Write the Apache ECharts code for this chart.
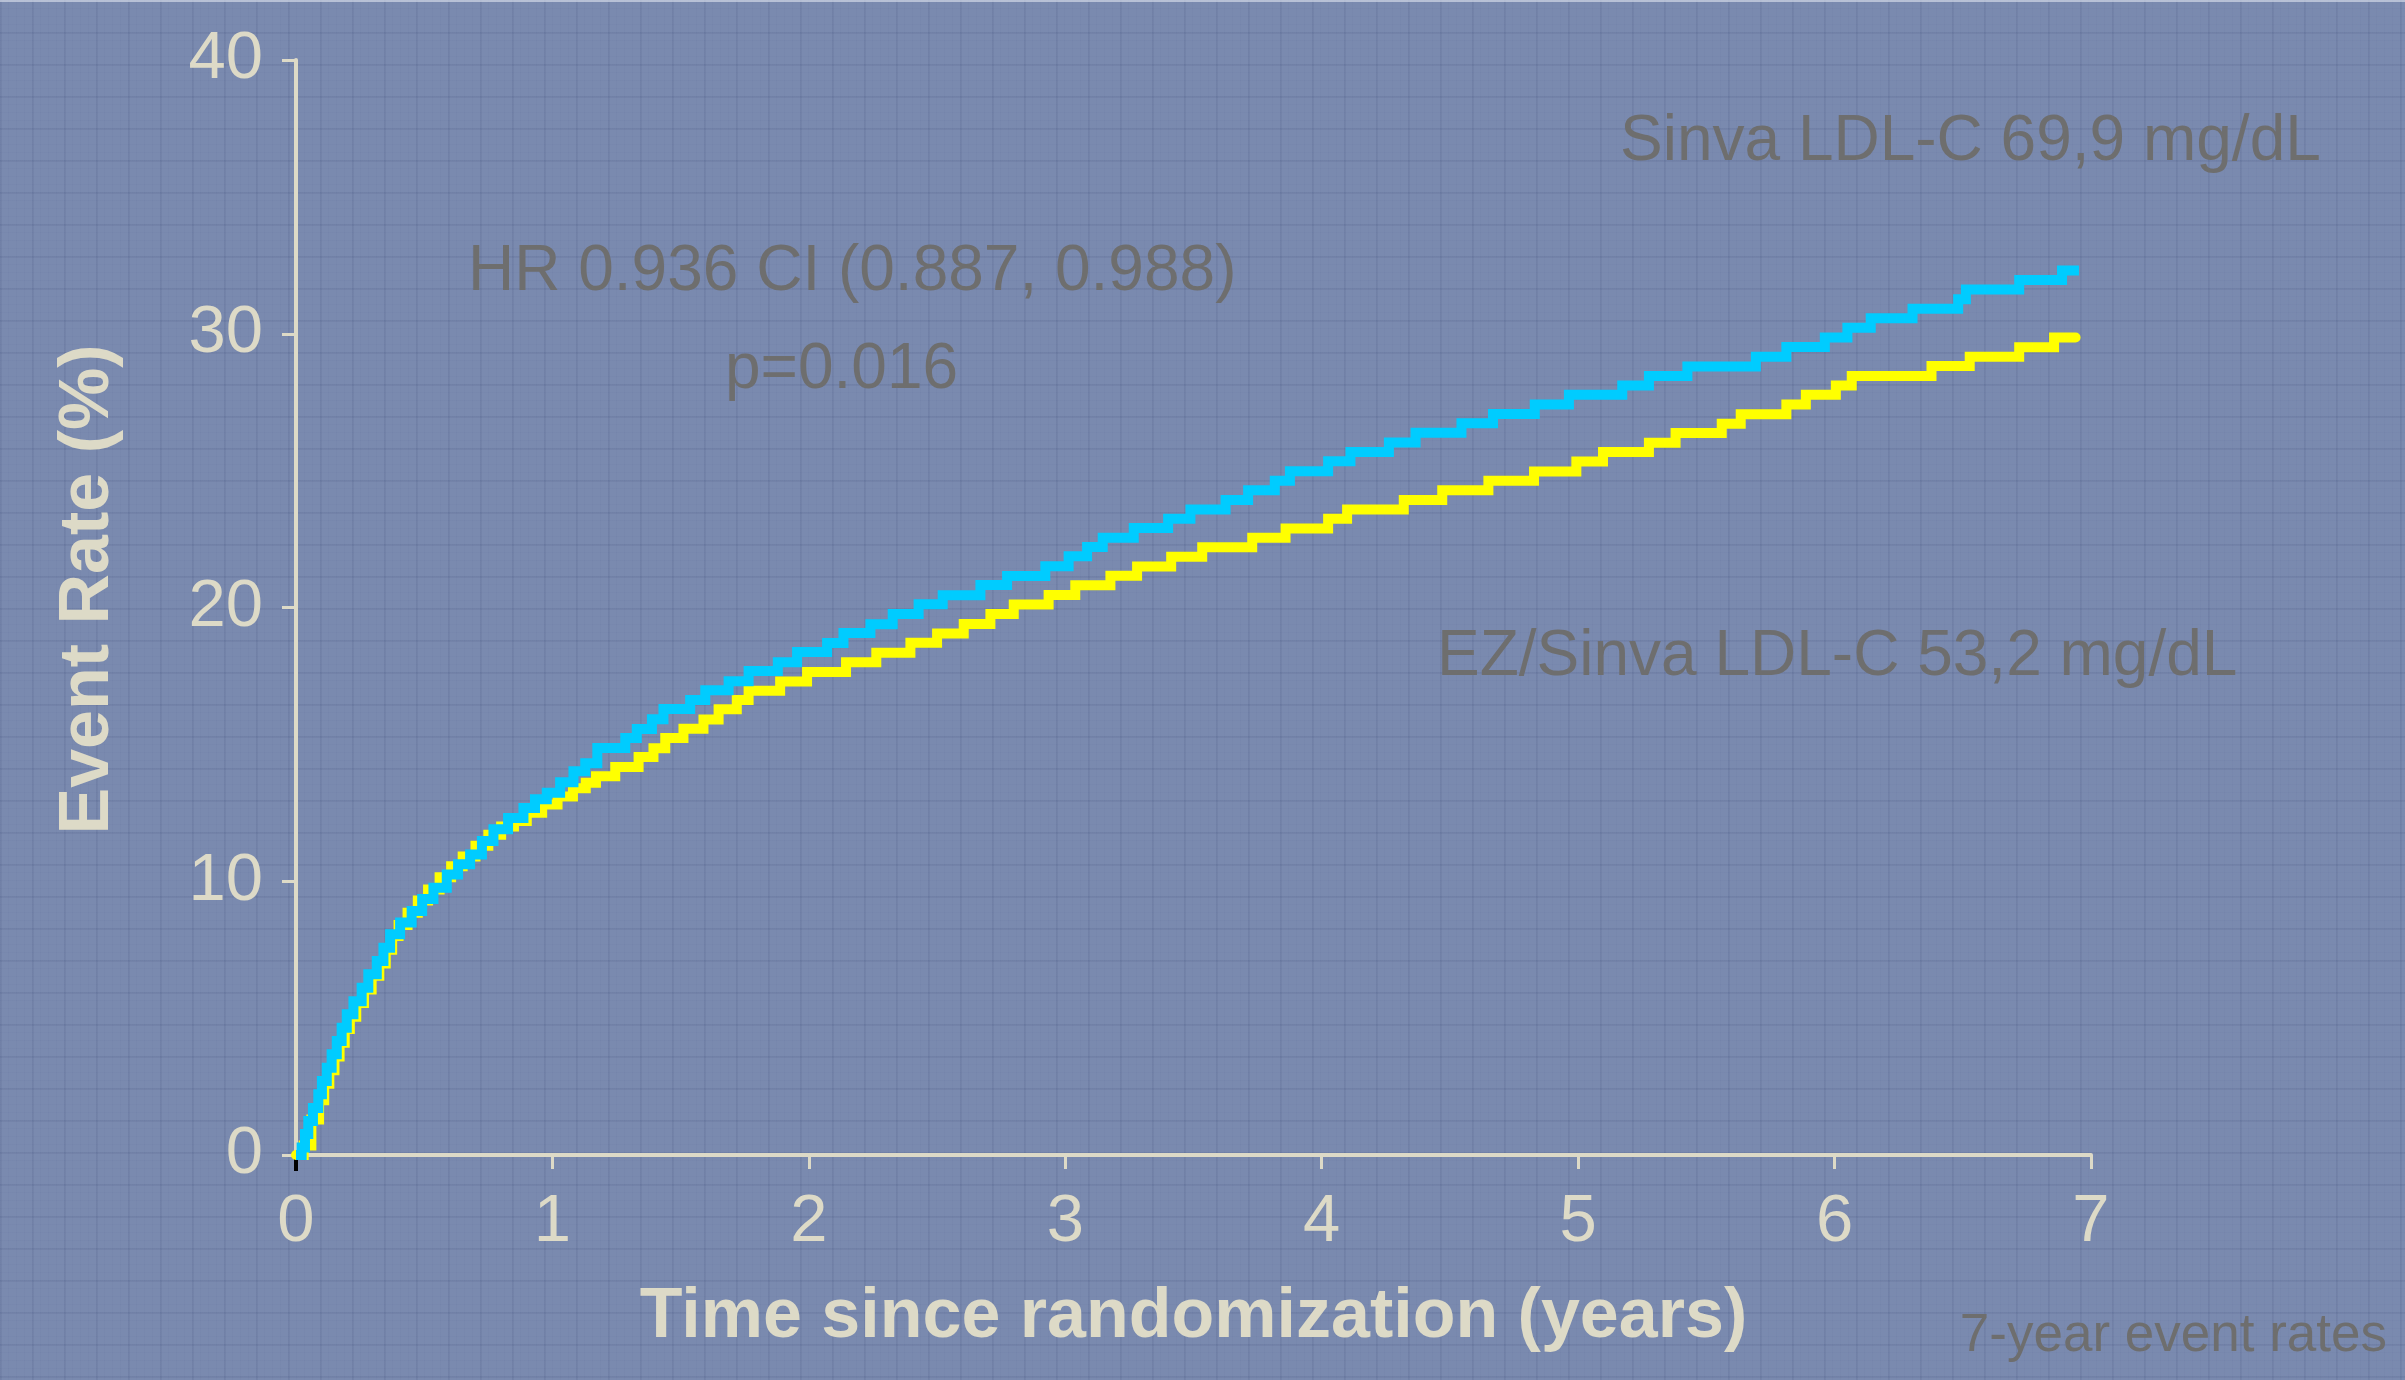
<!DOCTYPE html>
<html>
<head>
<meta charset="utf-8">
<script src="https://cdn.jsdelivr.net/npm/echarts@6/dist/echarts.min.js"></script>
<style>
html,body{margin:0;padding:0;}
body{
  width:2405px;height:1380px;overflow:hidden;
  background-color:#7a8aaf;
  background-image:
    linear-gradient(to right, rgba(55,70,115,0.10) 2px, transparent 2px),
    linear-gradient(to bottom, rgba(55,70,115,0.10) 2px, transparent 2px),
    linear-gradient(to right, rgba(55,70,115,0.035) 1px, transparent 1px),
    linear-gradient(to bottom, rgba(55,70,115,0.035) 1px, transparent 1px);
  background-size:32px 32px,32px 32px,8px 8px,8px 8px;
  border-top:2px solid rgba(230,235,245,0.6);
  box-sizing:border-box;
}
#chart{width:2405px;height:1378px;}
</style>
</head>
<body>
<div id="chart"></div>
<script>
// ---- Data ----
const xTicks = [0, 1, 2, 3, 4, 5, 6, 7];
const yTicks = [0, 10, 20, 30, 40];

// Sinva (cyan): time in years, event rate in %
const sinvaTime = [0,0.022,0.035,0.048,0.066,0.087,0.101,0.120,0.139,0.159,0.178,0.198,0.224,0.256,0.282,0.315,0.341,0.367,0.406,0.451,0.492,0.536,0.588,0.632,0.679,0.725,0.770,0.827,0.887,0.932,0.978,1.030,1.082,1.128,1.175,1.284,1.329,1.388,1.433,1.537,1.596,1.687,1.765,1.879,1.954,2.071,2.135,2.240,2.327,2.428,2.522,2.669,2.773,2.922,3.013,3.085,3.146,3.267,3.401,3.488,3.625,3.713,3.817,3.876,4.025,4.112,4.262,4.366,4.545,4.668,4.831,4.964,5.172,5.276,5.426,5.693,5.812,5.962,6.050,6.141,6.304,6.482,6.512,6.720,6.887,6.953];
const sinvaRate = [0,0.27,0.77,1.24,1.72,2.22,2.70,3.19,3.68,4.16,4.65,5.14,5.62,6.11,6.60,7.09,7.57,8.06,8.49,8.91,9.35,9.76,10.25,10.62,10.98,11.47,11.90,12.31,12.68,13.00,13.23,13.62,14.02,14.31,14.87,15.23,15.56,15.92,16.29,16.62,16.98,17.31,17.68,18.00,18.37,18.70,19.07,19.39,19.76,20.12,20.45,20.82,21.15,21.51,21.87,22.21,22.55,22.90,23.24,23.58,23.93,24.28,24.63,24.98,25.34,25.68,26.03,26.38,26.73,27.07,27.42,27.77,28.11,28.46,28.80,29.16,29.52,29.86,30.22,30.57,30.91,31.26,31.62,31.96,32.31,32.31];

// EZ/Sinva (yellow)
const ezTime = [0,0.03,0.06,0.09,0.11,0.13,0.15,0.17,0.19,0.21,0.235,0.265,0.295,0.325,0.35,0.375,0.40,0.435,0.475,0.515,0.56,0.605,0.65,0.70,0.75,0.80,0.85,0.90,0.96,1.02,1.08,1.13,1.17,1.245,1.336,1.394,1.440,1.511,1.589,1.648,1.719,1.765,1.888,1.993,2.145,2.263,2.396,2.500,2.604,2.708,2.799,2.935,3.039,3.176,3.280,3.413,3.534,3.729,3.859,4.025,4.099,4.320,4.470,4.650,4.828,4.993,5.097,5.276,5.380,5.560,5.634,5.812,5.888,6.005,6.067,6.378,6.527,6.720,6.856,6.940];
const ezRate = [0,0.35,1.3,2.0,2.6,3.1,3.6,4.1,4.6,5.05,5.55,6.05,6.55,7.0,7.5,8.0,8.4,8.85,9.3,9.7,10.15,10.55,10.9,11.3,11.7,12.0,12.2,12.5,12.8,13.1,13.4,13.6,13.84,14.17,14.54,14.86,15.23,15.57,15.91,16.28,16.62,16.96,17.30,17.64,18.00,18.35,18.71,19.05,19.40,19.76,20.11,20.46,20.81,21.16,21.50,21.85,22.20,22.55,22.89,23.24,23.58,23.93,24.28,24.63,24.97,25.33,25.68,26.02,26.37,26.71,27.06,27.42,27.77,28.11,28.46,28.82,29.16,29.51,29.86,29.86];

const labels = {
  sinva: 'Sinva LDL-C 69,9 mg/dL',
  ez: 'EZ/Sinva LDL-C 53,2 mg/dL',
  hr: 'HR 0.936 CI (0.887, 0.988)',
  p: 'p=0.016',
  note: '7-year event rates',
  xName: 'Time since randomization (years)',
  yName: 'Event Rate (%)'
};

const zip = (a, b) => a.map((v, i) => [v, b[i]]);

const cream = '#dddac7';
const gray = '#6e6e6e';
const sans = '"Liberation Sans", Arial, Helvetica, sans-serif';

const chart = echarts.init(document.getElementById('chart'), null, {renderer: 'canvas'});
chart.setOption({
  animation: false,
  backgroundColor: 'transparent',
  grid: {left: 296, top: 58, width: 1795, height: 1095},
  xAxis: [{
    type: 'value', min: xTicks[0], max: xTicks[xTicks.length - 1], interval: 1,
    name: labels.xName, nameLocation: 'middle', nameGap: 128,
    nameTextStyle: {color: cream, fontSize: 70, fontWeight: 'bold', fontFamily: sans},
    axisLine: {lineStyle: {color: cream, width: 4}},
    axisTick: {length: 14, lineStyle: {color: cream, width: 3}},
    axisLabel: {color: cream, fontSize: 67, fontFamily: sans, margin: 34},
    splitLine: {show: false}
  }, {
    type: 'value', min: xTicks[0], max: xTicks[xTicks.length - 1], position: 'bottom',
    axisLine: {show: false}, axisLabel: {show: false}, splitLine: {show: false},
    axisTick: {show: true, customValues: [0], length: 16, lineStyle: {color: '#000', width: 4}}
  }],
  yAxis: {
    type: 'value', min: yTicks[0], max: yTicks[yTicks.length - 1], interval: 10,
    name: labels.yName, nameLocation: 'middle', nameGap: 172,
    nameTextStyle: {color: cream, fontSize: 70, fontWeight: 'bold', fontFamily: sans, padding: [0, 0, 0, 36]},
    axisLine: {lineStyle: {color: cream, width: 4}},
    axisTick: {length: 14, lineStyle: {color: cream, width: 3}},
    axisLabel: {color: cream, fontSize: 67, fontFamily: sans, margin: 33},
    splitLine: {show: false}
  },
  series: [{
    name: labels.ez, type: 'line', step: 'end', symbol: 'none', z: 2,
    data: zip(ezTime, ezRate),
    lineStyle: {color: '#ffff00', width: 10, cap: 'round', join: 'miter'}
  }, {
    name: labels.sinva, type: 'line', step: 'end', symbol: 'none', z: 3,
    data: zip(sinvaTime, sinvaRate),
    lineStyle: {color: '#00ccff', width: 10, cap: 'butt', join: 'miter'}
  }],
  graphic: [
    {type: 'text', left: 1620, top: 108, style: {text: labels.sinva, fill: gray, font: '64px ' + sans}},
    {type: 'text', left: 468, top: 238, style: {text: labels.hr, fill: gray, font: '64px ' + sans}},
    {type: 'text', left: 725, top: 336, style: {text: labels.p, fill: gray, font: '64px ' + sans}},
    {type: 'text', left: 1437, top: 623, style: {text: labels.ez, fill: gray, font: '64px ' + sans}},
    {type: 'text', right: 18, top: 1308, style: {text: labels.note, fill: gray, font: '53px ' + sans}}
  ]
});
</script>
</body>
</html>
